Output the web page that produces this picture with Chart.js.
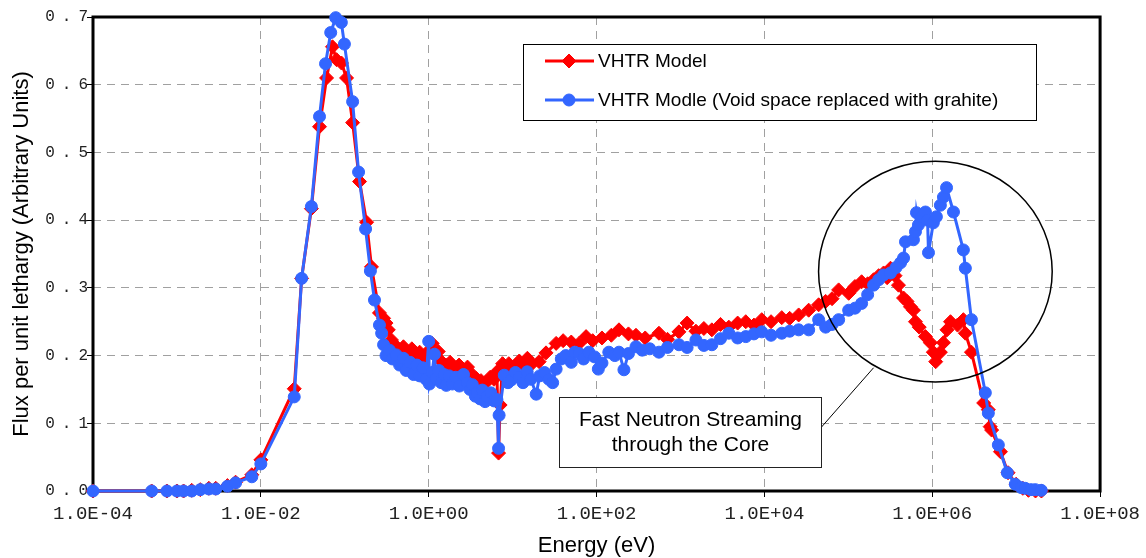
<!DOCTYPE html>
<html>
<head>
<meta charset="utf-8">
<script src="https://cdn.jsdelivr.net/npm/chart.js@4.4.1/dist/chart.umd.min.js"></script>
<style>
html,body{margin:0;padding:0;background:#fff;}
#wrap{width:1146px;height:558px;position:relative;}
canvas{display:block;}
</style>
</head>
<body>
<div id="wrap"><canvas id="c" width="1146" height="558"></canvas></div>
<script>
// ---------------- data ----------------
const seriesNames = ['VHTR Model', 'VHTR Modle (Void space replaced with grahite)'];

const redEnergy = [1e-4,5.0e-4,7.6e-4,1.0e-3,1.2e-3,1.5e-3,1.9e-3,2.4e-3,2.9e-3,4.0e-3,5.0e-3,7.8e-3,1.0e-2,
  2.5e-2,3.06e-2,4.0e-2,5.0e-2,6.07e-2,7.14e-2,7.98e-2,9.14e-2,0.105,0.124,0.150,0.182,0.208,0.259,0.29,0.31,
  0.33,0.36,0.40,0.45,0.50,0.56,0.63,0.70,0.78,0.88,0.98,1.10,1.20,1.30,1.45,1.6,1.8,2.0,2.3,2.6,2.9,3.3,3.7,
  4.2,4.8,5.4,6.0,6.5,6.8,7.1,7.6,8.0,9.0,10,11,12,13.5,15,17,20.7,25,33,40,50,62,75,90,116,150,185,240,295,
  380,554,700,959,1200,1528,1900,2366,3000,3767,4800,6000,7500,9300,12000,16100,20000,25600,33700,44300,
  53700,64000,76700,1.01e5,1.2e5,1.44e5,1.7e5,2.0e5,2.3e5,2.63e5,2.9e5,3.18e5,3.6e5,3.96e5,4.55e5,5.0e5,
  5.5e5,5.97e5,6.31e5,7.0e5,8.3e5,9.5e5,1.03e6,1.1e6,1.25e6,1.36e6,1.5e6,1.65e6,2.0e6,2.35e6,2.48e6,2.93e6,
  4.1e6,4.66e6,4.9e6,5.1e6,6.5e6,8.0e6,1.0e7,1.2e7,1.4e7,1.7e7,2.0e7];
const redFlux = [0,0,0,0,0,0.001,0.002,0.004,0.004,0.008,0.013,0.024,0.046,
  0.151,0.314,0.417,0.538,0.610,0.656,0.637,0.632,0.610,0.544,0.457,0.397,0.331,0.263,0.255,0.248,
  0.238,0.223,0.215,0.208,0.213,0.205,0.210,0.200,0.205,0.196,0.206,0.218,0.200,0.206,0.190,0.186,0.190,0.180,0.186,0.178,0.183,0.172,0.166,
  0.163,0.160,0.168,0.165,0.176,0.056,0.127,0.188,0.180,0.188,0.180,0.186,0.192,0.185,0.196,0.188,0.191,0.204,0.218,0.222,0.220,0.218,0.228,0.222,0.226,0.230,0.238,0.232,0.230,
  0.226,0.233,0.224,0.235,0.248,0.236,0.240,0.238,0.246,0.242,0.248,0.250,0.245,0.253,0.250,0.256,0.255,0.260,0.267,0.275,
  0.280,0.284,0.297,0.292,0.302,0.309,0.306,0.312,0.318,0.322,0.315,0.329,0.318,0.304,0.285,0.280,
  0.272,0.267,0.250,0.242,0.228,0.219,0.205,0.191,0.205,0.219,0.238,0.250,0.245,0.253,0.233,0.205,
  0.130,0.120,0.095,0.090,0.058,0.027,0.010,0.004,0.001,0.000,0.000];

const blueEnergy = [1e-4,5.0e-4,7.6e-4,1.0e-3,1.2e-3,1.5e-3,1.9e-3,2.4e-3,2.9e-3,4.0e-3,5.0e-3,7.8e-3,1.0e-2,
  2.5e-2,3.06e-2,4.0e-2,5.0e-2,5.9e-2,6.8e-2,7.8e-2,9.1e-2,9.9e-2,0.124,0.146,0.177,0.202,0.226,0.259,0.275,0.29,0.31,
  0.34,0.37,0.41,0.45,0.50,0.54,0.60,0.66,0.72,0.78,0.85,0.93,1.00,1.02,1.10,1.17,1.23,1.32,1.41,1.52,1.62,1.75,1.91,
  2.1,2.32,2.6,2.88,3.1,3.31,3.6,3.8,4.1,4.35,4.7,5.0,5.5,6.04,6.5,6.8,6.9,7.95,8.8,9.63,10.8,12.0,13.3,14.9,16.5,19.1,
  21,24,27,30,33,38,43,50,55,62,70,81,95,105,116,140,165,185,212,240,295,350,430,554,700,959,1200,1528,1900,2366,
  3000,3767,4800,6000,7500,9300,12000,16100,20000,25600,33700,44300,53700,64000,76700,1.01e5,1.2e5,1.44e5,1.7e5,
  2.0e5,2.3e5,2.63e5,3.18e5,3.7e5,4.19e5,4.55e5,4.8e5,5.97e5,6.31e5,6.49e5,6.85e5,7.5e5,8.3e5,8.8e5,9.02e5,1.03e6,
  1.12e6,1.25e6,1.36e6,1.48e6,1.79e6,2.35e6,2.48e6,2.93e6,4.29e6,4.66e6,6.13e6,7.84e6,9.77e6,1.15e7,1.28e7,1.5e7,1.69e7,1.99e7];
const blueFlux = [0,0,0,0,0,0,0.002,0.003,0.003,0.007,0.012,0.021,0.040,
  0.139,0.314,0.420,0.553,0.631,0.677,0.699,0.692,0.660,0.575,0.471,0.387,0.325,0.282,0.245,0.233,0.216,0.200,
  0.208,0.195,0.201,0.186,0.196,0.178,0.190,0.172,0.186,0.170,0.182,0.165,0.221,0.158,0.175,0.202,0.166,0.178,0.160,0.172,0.156,0.170,0.158,
  0.168,0.155,0.172,0.160,0.150,0.157,0.140,0.146,0.136,0.149,0.132,0.140,0.145,0.133,0.135,0.063,0.112,0.171,0.160,0.164,0.175,0.168,0.160,0.176,0.165,0.143,
  0.170,0.175,0.165,0.160,0.180,0.195,0.200,0.190,0.205,0.203,0.195,0.205,0.198,0.180,0.189,0.205,0.200,0.205,0.179,0.203,0.213,0.208,0.210,0.205,0.212,0.216,0.212,0.223,0.215,0.216,
  0.225,0.233,0.226,0.228,0.232,0.235,0.230,0.233,0.236,0.238,0.238,0.253,0.242,0.246,0.253,0.267,0.270,0.277,0.290,
  0.304,0.312,0.319,0.322,0.330,0.337,0.344,0.368,0.371,0.383,0.411,0.393,0.405,0.412,0.400,0.352,0.396,
  0.405,0.422,0.434,0.448,0.412,0.356,0.329,0.253,0.145,0.115,0.068,0.027,0.010,0.005,0.004,0.002,0.002,0.001];

const xTickValues = [1e-4, 1e-2, 1e0, 1e2, 1e4, 1e6, 1e8];
const xTickLabels = ['1.0E-04','1.0E-02','1.0E+00','1.0E+02','1.0E+04','1.0E+06','1.0E+08'];
const yTickValues = [0, 0.1, 0.2, 0.3, 0.4, 0.5, 0.6, 0.7];
const yTickLabels = ['0.0','0.1','0.2','0.3','0.4','0.5','0.6','0.7'];

const calloutLines = ['Fast Neutron Streaming', 'through the Core'];

// ---------------- annotation geometry (data space) ----------------
const ellipseSpec = {e: 1.09e6, f: 0.324, halfDecades: 1.392, halfFlux: 0.163};
const calloutSpec = {e0: 35.8, e1: 4.68e4, fTop: 0.139, fBottom: 0.0355};
const connectorSpec = {e0: 4.68e4, f0: 0.093, e1: 2.0e5, f1: 0.182};

const RED = '#FF0000';
const BLUE = '#3366FF';
const MONO = '"Liberation Mono","Courier New",monospace';
const SANS = '"Liberation Sans",Arial,sans-serif';

function drawMarker(ctx, style, x, y, r, color) {
  ctx.save();
  ctx.fillStyle = color; ctx.strokeStyle = color; ctx.lineWidth = 1;
  ctx.beginPath();
  if (style === 'rectRot') {
    ctx.moveTo(x - r, y); ctx.lineTo(x, y - r); ctx.lineTo(x + r, y); ctx.lineTo(x, y + r); ctx.closePath();
  } else {
    ctx.arc(x, y, r, 0, Math.PI * 2);
  }
  ctx.fill(); ctx.stroke();
  ctx.restore();
}

const spacingPlugin = {
  id: 'spacing',
  beforeDraw(chart) {
    const specs = [['y', '7px']];
    for (const [id, sp] of specs) {
      const s = chart.scales[id];
      if (s && !s._spPatched) {
        const orig = s.drawLabels;
        s.drawLabels = function (a) {
          const ctx = this.ctx; ctx.save(); ctx.letterSpacing = sp; orig.call(this, a); ctx.restore();
        };
        s._spPatched = true;
      }
    }
  }
};

const framePlugin = {
  id: 'frame',
  beforeDatasetsDraw(chart) {
    const {ctx, chartArea: a} = chart;
    ctx.save();
    ctx.strokeStyle = '#000'; ctx.lineWidth = 3;
    ctx.strokeRect(a.left, a.top, a.right - a.left, a.bottom - a.top);
    ctx.restore();
  }
};

const annotPlugin = {
  id: 'annot',
  afterDatasetsDraw(chart) {
    const {ctx} = chart;
    const xs = chart.scales.x, ys = chart.scales.y;
    ctx.save();
    // ellipse
    const cx = xs.getPixelForValue(ellipseSpec.e), cy = ys.getPixelForValue(ellipseSpec.f);
    const rx = xs.getPixelForValue(ellipseSpec.e * Math.pow(10, ellipseSpec.halfDecades)) - cx;
    const ry = cy - ys.getPixelForValue(ellipseSpec.f + ellipseSpec.halfFlux);
    ctx.strokeStyle = '#000'; ctx.lineWidth = 1.5;
    ctx.beginPath(); ctx.ellipse(cx, cy, rx, ry, 0, 0, Math.PI * 2); ctx.stroke();
    // connector
    ctx.lineWidth = 1;
    ctx.beginPath();
    ctx.moveTo(xs.getPixelForValue(connectorSpec.e0), ys.getPixelForValue(connectorSpec.f0));
    ctx.lineTo(xs.getPixelForValue(connectorSpec.e1), ys.getPixelForValue(connectorSpec.f1));
    ctx.stroke();
    // callout box
    const bx0 = Math.round(xs.getPixelForValue(calloutSpec.e0)) + 0.5;
    const bx1 = Math.round(xs.getPixelForValue(calloutSpec.e1)) + 0.5;
    const by0 = Math.round(ys.getPixelForValue(calloutSpec.fTop)) + 0.5;
    const by1 = Math.round(ys.getPixelForValue(calloutSpec.fBottom)) + 0.5;
    ctx.fillStyle = '#fff';
    ctx.fillRect(bx0, by0, bx1 - bx0, by1 - by0);
    ctx.strokeStyle = '#222';
    ctx.strokeRect(bx0, by0, bx1 - bx0, by1 - by0);
    ctx.fillStyle = '#000';
    ctx.font = '21px ' + SANS;
    ctx.textAlign = 'center'; ctx.textBaseline = 'middle';
    const midX = (bx0 + bx1) / 2;
    const h = by1 - by0;
    calloutLines.forEach((t, i) => {
      ctx.fillText(t, midX, by0 + h * 0.32 + i * 25);
    });
    ctx.restore();
  },
  afterDraw(chart) {
    const {ctx} = chart;
    ctx.save();
    // legend box
    const L = 523.5, T = 44.5, W = 513, H = 76;
    ctx.fillStyle = '#fff'; ctx.fillRect(L, T, W, H);
    ctx.strokeStyle = '#000'; ctx.lineWidth = 1; ctx.strokeRect(L, T, W, H);
    const rows = [
      {name: seriesNames[0], color: RED, style: 'rectRot', r: 7, y: 61},
      {name: seriesNames[1], color: BLUE, style: 'circle', r: 6, y: 100}
    ];
    ctx.font = '19px ' + SANS;
    ctx.textAlign = 'left'; ctx.textBaseline = 'middle';
    rows.forEach(r => {
      ctx.strokeStyle = r.color; ctx.lineWidth = 3;
      ctx.beginPath(); ctx.moveTo(545, r.y); ctx.lineTo(594, r.y); ctx.stroke();
      drawMarker(ctx, r.style, 569, r.y, r.r, r.color);
      ctx.fillStyle = '#000';
      ctx.fillText(r.name, 598, r.y + 1);
    });
    ctx.restore();
  }
};

const ctx = document.getElementById('c').getContext('2d');
new Chart(ctx, {
  type: 'scatter',
  data: {
    datasets: [
      {
        label: seriesNames[0],
        data: redEnergy.map((e, i) => ({x: e, y: redFlux[i]})),
        showLine: true, borderColor: RED, backgroundColor: RED, borderWidth: 3,
        pointStyle: 'rectRot', pointRadius: 7, pointBorderWidth: 1, pointBorderColor: RED, pointBackgroundColor: RED,
        tension: 0, clip: false, order: 2
      },
      {
        label: seriesNames[1],
        data: blueEnergy.map((e, i) => ({x: e, y: blueFlux[i]})),
        showLine: true, borderColor: BLUE, backgroundColor: BLUE, borderWidth: 3,
        pointStyle: 'circle', pointRadius: 6, pointBorderWidth: 1, pointBorderColor: BLUE, pointBackgroundColor: BLUE,
        tension: 0, clip: false, order: 1
      }
    ]
  },
  options: {
    responsive: false,
    devicePixelRatio: 1,
    animation: false,
    events: [],
    layout: {padding: {left: 0, top: 17, right: 44, bottom: 0}},
    plugins: {legend: {display: false}, tooltip: {enabled: false}},
    scales: {
      x: {
        type: 'logarithmic', min: 1e-4, max: 1e8,
        afterBuildTicks: s => { s.ticks = xTickValues.map(v => ({value: v})); },
        afterFit: s => { s.height = 67; },
        ticks: {
          callback: (v, i) => xTickLabels[i],
          font: {family: MONO, size: 19}, color: '#222', padding: 6,
          maxRotation: 0, minRotation: 0, autoSkip: false
        },
        grid: {color: '#a0a0a0', lineWidth: 1, drawTicks: true, tickLength: 6, tickColor: '#000', tickWidth: 1, tickBorderDash: []},
        border: {display: false, dash: [8, 6]},
        title: {display: true, text: 'Energy (eV)', color: '#000',
          font: {family: SANS, size: 22, lineHeight: 1.1}, padding: {top: 0, bottom: 0}}
      },
      y: {
        type: 'linear', min: 0, max: 0.7,
        afterBuildTicks: s => { s.ticks = yTickValues.map(v => ({value: v})); },
        afterFit: s => { s.width = 93; },
        ticks: {
          callback: (v, i) => yTickLabels[i],
          font: {family: MONO, size: 16}, color: '#222', padding: -8
        },
        grid: {color: '#a0a0a0', lineWidth: 1, drawTicks: true, tickLength: 6, tickColor: '#000', tickWidth: 1, tickBorderDash: []},
        border: {display: false, dash: [8, 6]},
        title: {display: true, text: 'Flux per unit lethargy (Arbitrary Units)', color: '#000',
          font: {family: SANS, size: 22, lineHeight: 1.1}, padding: {top: 10, bottom: 0}}
      }
    }
  },
  plugins: [spacingPlugin, framePlugin, annotPlugin]
});
</script>
</body>
</html>
